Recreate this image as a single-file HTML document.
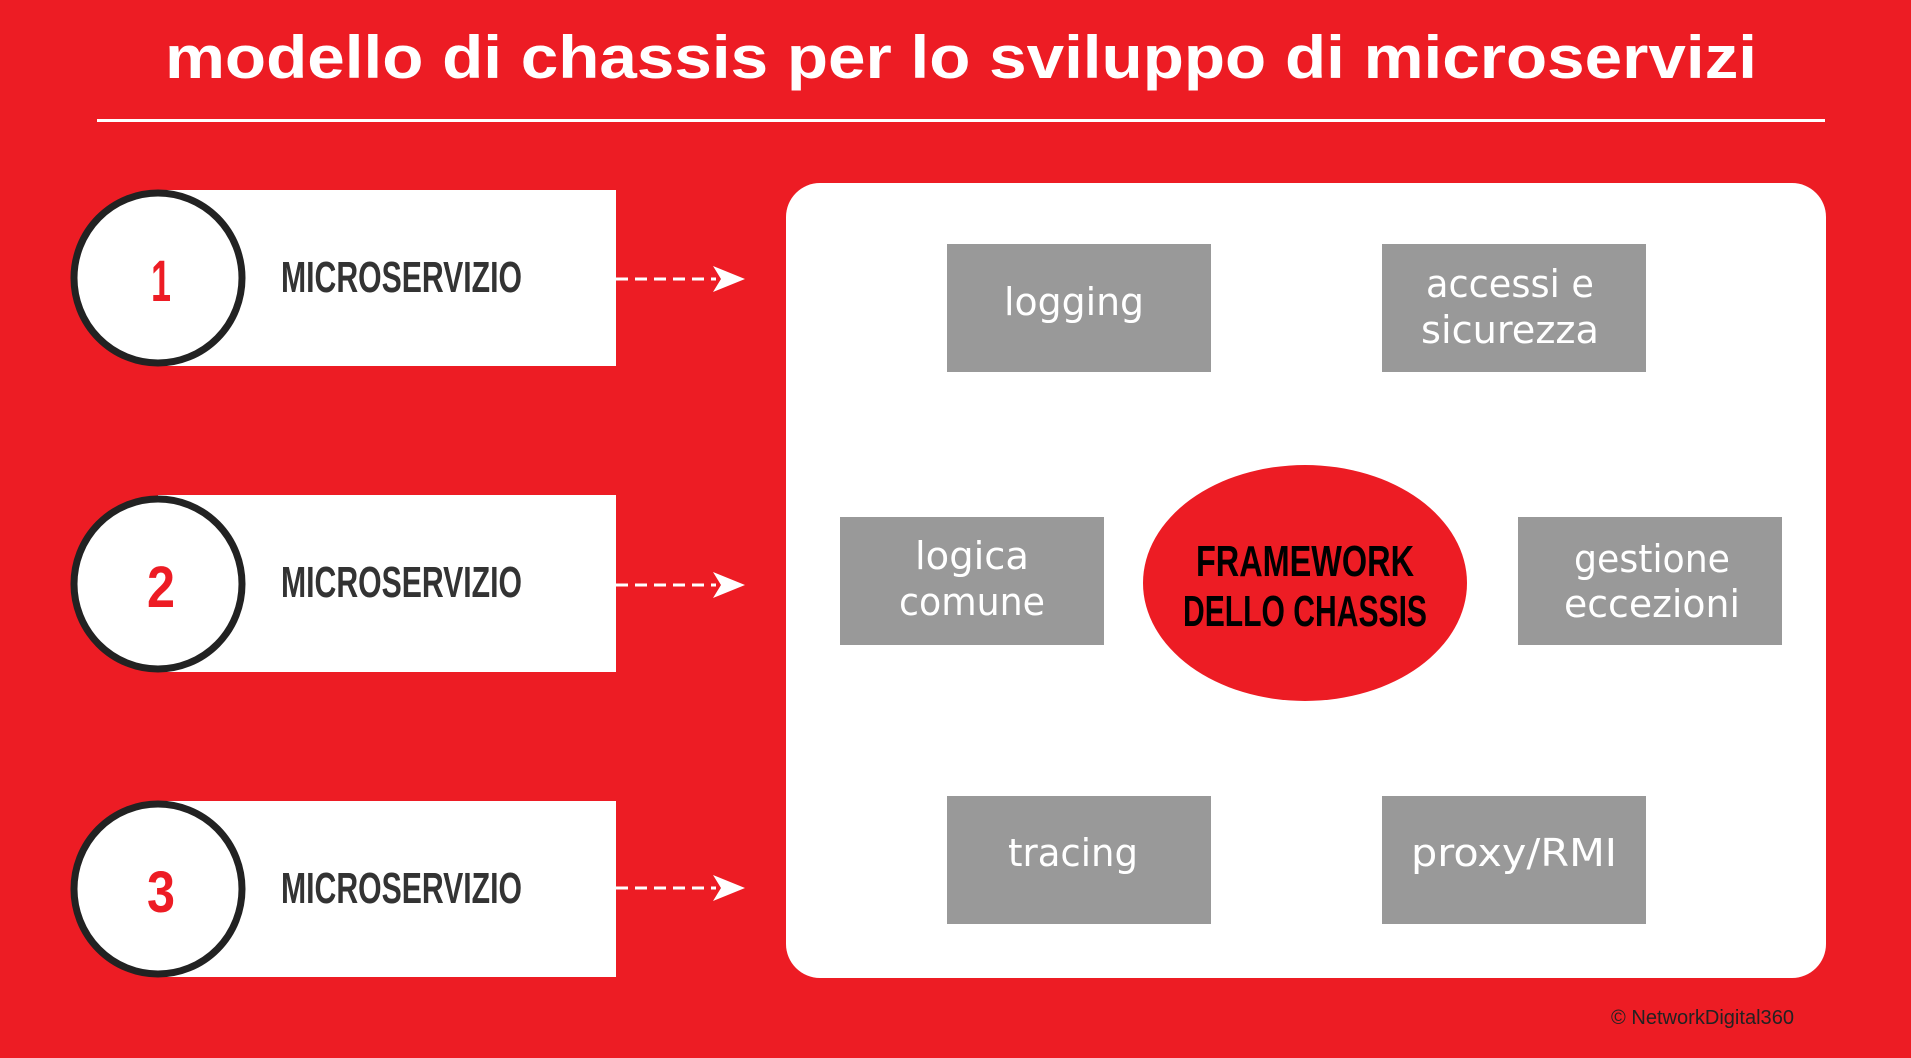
<!DOCTYPE html>
<html><head><meta charset="utf-8"><style>
html,body{margin:0;padding:0;background:#ed1c24;}
svg{display:block}
</style></head><body>
<svg width="1911" height="1058" viewBox="0 0 1911 1058" xmlns="http://www.w3.org/2000/svg">
<rect width="1911" height="1058" fill="#ed1c24"/>
<text x="961" y="78" text-anchor="middle" font-family="Liberation Sans, sans-serif" font-weight="bold" font-size="60" fill="#fff" textLength="1592" lengthAdjust="spacingAndGlyphs">modello di chassis per lo sviluppo di microservizi</text>
<rect x="97" y="119" width="1728" height="3" fill="#fff"/>
<rect x="786" y="183" width="1040" height="795" rx="34" fill="#fff"/>

<g font-family="Liberation Sans Narrow, Liberation Sans, sans-serif" font-weight="bold">
<g>
<rect x="158" y="190" width="458" height="176" fill="#fff"/>
<ellipse cx="158" cy="278" rx="84" ry="85" fill="#fff" stroke="#222" stroke-width="7"/>
<text x="161" y="301" text-anchor="middle" font-size="58" fill="#ed1c24" textLength="20" lengthAdjust="spacingAndGlyphs">1</text>
<text x="281" y="292" font-size="44" fill="#333" textLength="241" lengthAdjust="spacingAndGlyphs">MICROSERVIZIO</text>
<line x1="616" y1="279" x2="716" y2="279" stroke="#fff" stroke-width="3" stroke-dasharray="12,7"/>
<path d="M713 266 L745 279 L713 292 L721 279 Z" fill="#fff"/>
</g>
<g>
<rect x="158" y="495" width="458" height="177" fill="#fff"/>
<ellipse cx="158" cy="584" rx="84" ry="85" fill="#fff" stroke="#222" stroke-width="7"/>
<text x="161" y="607" text-anchor="middle" font-size="58" fill="#ed1c24" textLength="28" lengthAdjust="spacingAndGlyphs">2</text>
<text x="281" y="597" font-size="44" fill="#333" textLength="241" lengthAdjust="spacingAndGlyphs">MICROSERVIZIO</text>
<line x1="616" y1="585" x2="716" y2="585" stroke="#fff" stroke-width="3" stroke-dasharray="12,7"/>
<path d="M713 572 L745 585 L713 598 L721 585 Z" fill="#fff"/>
</g>
<g>
<rect x="158" y="801" width="458" height="176" fill="#fff"/>
<ellipse cx="158" cy="889" rx="84" ry="85" fill="#fff" stroke="#222" stroke-width="7"/>
<text x="161" y="912" text-anchor="middle" font-size="58" fill="#ed1c24" textLength="28" lengthAdjust="spacingAndGlyphs">3</text>
<text x="281" y="903" font-size="44" fill="#333" textLength="241" lengthAdjust="spacingAndGlyphs">MICROSERVIZIO</text>
<line x1="616" y1="888" x2="716" y2="888" stroke="#fff" stroke-width="3" stroke-dasharray="12,7"/>
<path d="M713 875 L745 888 L713 901 L721 888 Z" fill="#fff"/>
</g>
</g>

<g fill="#999">
<rect x="947" y="244" width="264" height="128"/>
<rect x="1382" y="244" width="264" height="128"/>
<rect x="840" y="517" width="264" height="128"/>
<rect x="1518" y="517" width="264" height="128"/>
<rect x="947" y="796" width="264" height="128"/>
<rect x="1382" y="796" width="264" height="128"/>
</g>
<g font-family="DejaVu Sans, Liberation Sans, sans-serif" font-size="38" fill="#fff" text-anchor="middle">
<text x="1074" y="315" textLength="140" lengthAdjust="spacingAndGlyphs">logging</text>
<text x="1510" y="297" textLength="168" lengthAdjust="spacingAndGlyphs">accessi e</text>
<text x="1510" y="343" textLength="178" lengthAdjust="spacingAndGlyphs">sicurezza</text>
<text x="972" y="569" textLength="114" lengthAdjust="spacingAndGlyphs">logica</text>
<text x="972" y="615" textLength="146" lengthAdjust="spacingAndGlyphs">comune</text>
<text x="1652" y="572" textLength="156" lengthAdjust="spacingAndGlyphs">gestione</text>
<text x="1652" y="617" textLength="176" lengthAdjust="spacingAndGlyphs">eccezioni</text>
<text x="1073" y="866" textLength="130" lengthAdjust="spacingAndGlyphs">tracing</text>
<text x="1514" y="866" textLength="206" lengthAdjust="spacingAndGlyphs">proxy/RMI</text>
</g>

<ellipse cx="1305" cy="583" rx="162" ry="118" fill="#ed1c24"/>
<g font-family="Liberation Sans Narrow, Liberation Sans, sans-serif" font-weight="bold" font-size="44" fill="#000" text-anchor="middle">
<text x="1305" y="576" textLength="218" lengthAdjust="spacingAndGlyphs">FRAMEWORK</text>
<text x="1305" y="626" textLength="244" lengthAdjust="spacingAndGlyphs">DELLO CHASSIS</text>
</g>
<text x="1611" y="1024" font-family="Liberation Sans Narrow, Liberation Sans, sans-serif" font-size="20" fill="#222" textLength="183" lengthAdjust="spacingAndGlyphs">© NetworkDigital360</text>
</svg>
</body></html>
